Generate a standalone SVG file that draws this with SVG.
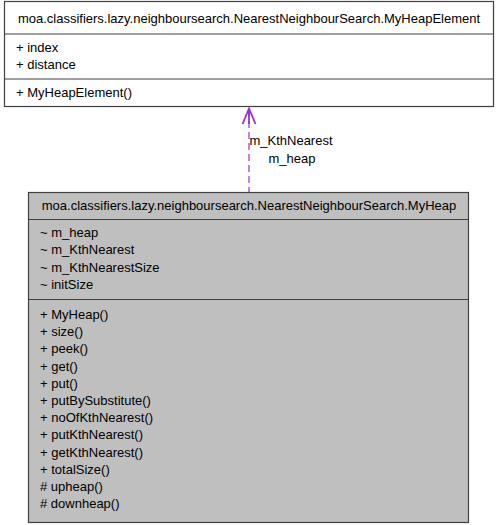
<svg xmlns="http://www.w3.org/2000/svg" width="499" height="525" viewBox="0 0 499 525">
<style>
text{font-family:"Liberation Sans",Arial,sans-serif;font-size:13px;fill:#000}
.box{stroke:#404040;stroke-width:1.2}
.sep{stroke:#404040;stroke-width:1.2}
.c{text-anchor:middle}
.edge{stroke:#9a32cd;stroke-width:1.2;fill:none}
.head{stroke:#9a32cd;stroke-width:1.8;fill:none;stroke-linejoin:miter}
</style>
<rect width="499" height="525" fill="#fff"/>
<g id="connectors">
<line class="edge" x1="249" y1="110" x2="249" y2="192" stroke-dasharray="7,4"/>
<polyline class="head" points="242.5,124 249,108.5 255.5,124"/>
<line class="head" x1="249" y1="109" x2="249" y2="124"/>
<text class="c" x="291" y="145">m_KthNearest</text>
<text class="c" x="292" y="163">m_heap</text>
</g>
<g id="MyHeapElement">
<rect class="box" x="4.5" y="1.5" width="489" height="105" fill="#fff"/>
<line class="sep" x1="4.5" y1="34" x2="493.5" y2="34"/>
<line class="sep" x1="4.5" y1="79" x2="493.5" y2="79"/>
<text class="c" x="249" y="23">moa.classifiers.lazy.neighboursearch.NearestNeighbourSearch.MyHeapElement</text>
<text x="16" y="51.5">+ index</text>
<text x="16" y="68.5">+ distance</text>
<text x="16" y="97">+ MyHeapElement()</text>
</g>
<g id="MyHeap">
<rect class="box" x="28.5" y="192.5" width="440" height="330" fill="#bfbfbf"/>
<line class="sep" x1="28.5" y1="219.5" x2="468.5" y2="219.5"/>
<line class="sep" x1="28.5" y1="299.5" x2="468.5" y2="299.5"/>
<text class="c" x="249" y="210">moa.classifiers.lazy.neighboursearch.NearestNeighbourSearch.MyHeap</text>
<text x="40" y="237">~ m_heap</text>
<text x="40" y="254">~ m_KthNearest</text>
<text x="40" y="272">~ m_KthNearestSize</text>
<text x="40" y="289">~ initSize</text>
<text x="40" y="319">+ MyHeap()</text>
<text x="40" y="336">+ size()</text>
<text x="40" y="353">+ peek()</text>
<text x="40" y="371">+ get()</text>
<text x="40" y="388">+ put()</text>
<text x="40" y="405">+ putBySubstitute()</text>
<text x="40" y="422">+ noOfKthNearest()</text>
<text x="40" y="439">+ putKthNearest()</text>
<text x="40" y="457">+ getKthNearest()</text>
<text x="40" y="474">+ totalSize()</text>
<text x="40" y="491"># upheap()</text>
<text x="40" y="508"># downheap()</text>
</g>
</svg>
